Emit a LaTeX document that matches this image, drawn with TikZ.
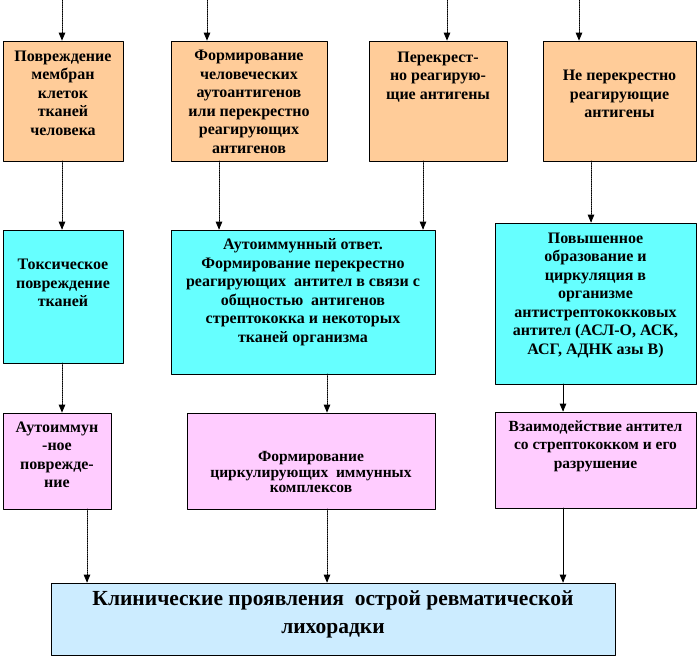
\documentclass[tikz,border=0pt]{standalone}
\usepackage{fontspec}
\setmainfont{Liberation Serif}
\usetikzlibrary{arrows}
\definecolor{orbg}{HTML}{FFCC99}
\definecolor{cybg}{HTML}{66FFFF}
\definecolor{pkbg}{HTML}{FFCCFF}
\definecolor{blbg}{HTML}{CCECFF}
\begin{document}
\begin{tikzpicture}[line cap=round,line join=round,>=triangle 45,x=1pt,y=-1pt,
  box/.style={rectangle, draw=black, line width=0.8pt, inner sep=0pt},
  orbox/.style={box, fill=orbg}, cybox/.style={box, fill=cybg},
  pkbox/.style={box, fill=pkbg}, blbox/.style={box, fill=blbg},
  txt/.style={align=center, inner sep=0pt, font=\bfseries\fontsize{16}{18.5}\selectfont},
  con/.style={->, line width=0.8pt, densely dotted},
  sol/.style={->, line width=0.8pt}]
                    \useasboundingbox (0,0) rectangle (699,658);

                    \node [orbox, minimum width=120, minimum height=120] (pov) at (63,101) {};
                    \node [orbox, minimum width=156, minimum height=120] (form) at (249,101) {};
                    \node [orbox, minimum width=138, minimum height=120] (perekr) at (438,101) {};
                    \node [orbox, minimum width=153, minimum height=120] (neperekr) at (619.5,101) {};
                    \node [cybox, minimum width=120, minimum height=133] (toks) at (63,296.5) {};
                    \node [cybox, minimum width=264, minimum height=144] (otvet) at (303,302) {};
                    \node [cybox, minimum width=201, minimum height=161] (povysh) at (595.5,303.5) {};
                    \node [pkbox, minimum width=108, minimum height=96] (autopov) at (57,461) {};
                    \node [pkbox, minimum width=248, minimum height=96] (kompl) at (311,461) {};
                    \node [pkbox, minimum width=201, minimum height=96] (vzaim) at (595.5,460) {};
                    \node [blbox, minimum width=564, minimum height=72] (klin) at (333,619) {};

                    \node [txt] (tpov) at (63,93) {Повреждение\\мембран\\клеток\\тканей\\человека};
                    \node [txt] (tform) at (249,102) {Формирование\\человеческих\\аутоантигенов\\или перекрестно\\реагирующих\\антигенов};
                    \node [txt] (tperekr) at (438,77) {Перекрест-\\но реагирую-\\щие антигены};
                    \node [txt] (tneperekr) at (619.5,94) {Не перекрестно\\реагирующие\\антигены};
                    \node [txt] (ttoks) at (63,283) {Токсическое\\повреждение\\тканей};
                    \node [txt] (totvet) at (303,292) {Аутоиммунный ответ.\\Формирование перекрестно\\реагирующих\ \ антител в связи с\\общностью\ \ антигенов\\стрептококка и некоторых\\тканей организма};
                    \node [txt] (tpovysh) at (595.5,295) {Повышенное\\образование и\\циркуляция в\\организме\\антистрептококковых\\антител (АСЛ-О, АСК,\\АСГ, АДНК азы В)};
                    \node [txt] (tautopov) at (57,455) {Аутоиммун\\-ное\\поврежде-\\ние};
                    \node [txt, font=\bfseries\fontsize{15.5}{15.5}\selectfont] (tkompl) at (311,472) {Формирование\\циркулирующих\ \ иммунных\\комплексов};
                    \node [txt, font=\bfseries\fontsize{15.5}{18.5}\selectfont] (tvzaim) at (595.5,446) {Взаимодействие антител\\со стрептококком и его\\разрушение};
                    \node [txt, font=\bfseries\fontsize{21.5}{28}\selectfont] (tklin) at (333,614) {Клинические проявления\ \ острой ревматической\\лихорадки};

                    \coordinate (in1) at (62,0);
                    \coordinate (in2) at (207,0);
                    \coordinate (in3) at (447,0);
                    \coordinate (in4) at (579,0);
                    \coordinate (out1) at (62,161);
                    \coordinate (out2) at (219,161);
                    \coordinate (out3) at (423,161);
                    \coordinate (out4) at (591,161);
                    \coordinate (out5) at (62,363);
                    \coordinate (out6) at (327,374);
                    \coordinate (out7) at (563,384);
                    \coordinate (out8) at (87,509);
                    \coordinate (out9) at (327,509);
                    \coordinate (out10) at (563,508);

                    \draw [con] (in1) -- (in1 |- pov.north);
                    \draw [con] (in2) -- (in2 |- form.north);
                    \draw [con] (in3) -- (in3 |- perekr.north);
                    \draw [con] (in4) -- (in4 |- neperekr.north);

                    \draw [con] (out1) -- (out1 |- toks.north);
                    \draw [con] (out2) -- (out2 |- otvet.north);
                    \draw [con] (out3) -- (out3 |- otvet.north);
                    \draw [con] (out4) -- (out4 |- povysh.north);

                    \draw [con] (out5) -- (out5 |- autopov.north);
                    \draw [con] (out6) -- (out6 |- kompl.north);
                    \draw [sol] (out7) -- (out7 |- vzaim.north);

                    \draw [con] (out8) -- (out8 |- klin.north);
                    \draw [con] (out9) -- (out9 |- klin.north);
                    \draw [sol] (out10) -- (out10 |- klin.north);
                \end{tikzpicture}
\end{document}
